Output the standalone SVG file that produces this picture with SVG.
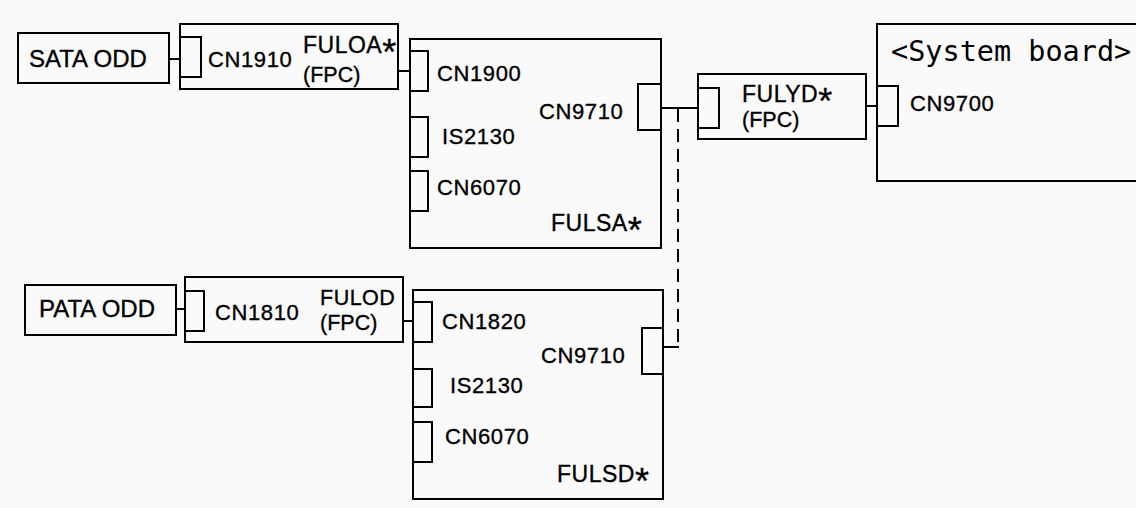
<svg xmlns="http://www.w3.org/2000/svg" width="1136" height="508" viewBox="0 0 1136 508">
<style>
.box{fill:none;stroke:#000;stroke-width:2}
.ln{fill:none;stroke:#000;stroke-width:2}
.dash{fill:none;stroke:#000;stroke-width:2;stroke-dasharray:13 7}
.t{font-family:"Liberation Sans",Arial,sans-serif;fill:#000;stroke:#000;stroke-width:0.35}
.big{font-size:24px}
.cn{font-size:22px;letter-spacing:0.6px}
.ful{font-size:23px;letter-spacing:0.5px}
.ast{font-size:36px}
.fpc{font-size:21.5px}
.mono{font-family:"DejaVu Sans Mono","Liberation Mono",monospace;font-size:28.5px;fill:#000}
</style>
<rect width="1136" height="508" fill="#fafafa"/>
<g id="sata-odd">
<rect class="box" x="18" y="33" width="151" height="50"/>
<text class="t big" x="29" y="67">SATA ODD</text>
</g>
<g id="fuloa">
<rect class="box" x="180" y="24" width="218" height="65"/>
<rect class="box" x="180" y="37" width="21" height="40"/>
<text class="t cn" x="208" y="67">CN1910</text>
<text class="t ful" x="303" y="53">FULOA<tspan class="ast" dy="12">*</tspan></text>
<text class="t fpc" x="303" y="82">(FPC)</text>
</g>
<g id="fulsa">
<rect class="box" x="410" y="39" width="251" height="209"/>
<rect class="box" x="410" y="51" width="18" height="40"/>
<rect class="box" x="410" y="117" width="18" height="40"/>
<rect class="box" x="410" y="171" width="18" height="40"/>
<rect class="box" x="638" y="84" width="23" height="46"/>
<text class="t cn" x="437" y="81">CN1900</text>
<text class="t cn" x="442" y="144">IS2130</text>
<text class="t cn" x="437" y="195">CN6070</text>
<text class="t cn" x="539" y="119">CN9710</text>
<text class="t ful" x="551" y="231">FULSA<tspan class="ast" dy="12">*</tspan></text>
</g>
<g id="fulyd">
<rect class="box" x="698" y="74" width="168" height="65"/>
<rect class="box" x="698" y="88" width="21" height="40"/>
<text class="t ful" x="742" y="102">FULYD<tspan class="ast" dy="12">*</tspan></text>
<text class="t fpc" x="742" y="127">(FPC)</text>
</g>
<g id="system-board">
<rect class="box" x="877" y="24" width="280" height="157"/>
<rect class="box" x="877" y="86" width="21" height="40"/>
<text class="mono" x="891" y="61">&lt;System board&gt;</text>
<text class="t cn" x="910" y="111">CN9700</text>
</g>
<g id="pata-odd">
<rect class="box" x="25" y="285" width="151" height="50"/>
<text class="t big" x="39" y="317">PATA ODD</text>
</g>
<g id="fulod">
<rect class="box" x="185" y="277" width="218" height="65"/>
<rect class="box" x="185" y="291" width="19" height="40"/>
<text class="t cn" x="215" y="320">CN1810</text>
<text class="t fpc" x="320" y="305" style="letter-spacing:0.5px">FULOD</text>
<text class="t fpc" x="320" y="330">(FPC)</text>
</g>
<g id="fulsd">
<rect class="box" x="413" y="290" width="250" height="209"/>
<rect class="box" x="413" y="302" width="19" height="40"/>
<rect class="box" x="413" y="369" width="19" height="38"/>
<rect class="box" x="413" y="422" width="19" height="40"/>
<rect class="box" x="642" y="328" width="21" height="46"/>
<text class="t cn" x="442" y="329">CN1820</text>
<text class="t cn" x="541" y="363">CN9710</text>
<text class="t cn" x="450" y="393">IS2130</text>
<text class="t cn" x="445" y="444">CN6070</text>
<text class="t ful" x="557" y="482">FULSD<tspan class="ast" dy="12">*</tspan></text>
</g>
<g id="connectors">
<line class="ln" x1="169" y1="59" x2="180" y2="59"/>
<line class="ln" x1="398" y1="71" x2="410" y2="71"/>
<line class="ln" x1="661" y1="108" x2="698" y2="108"/>
<line class="ln" x1="866" y1="106" x2="877" y2="106"/>
<line class="dash" x1="678" y1="109" x2="678" y2="346"/>
<line class="ln" x1="663" y1="347" x2="679" y2="347"/>
<line class="ln" x1="176" y1="309" x2="185" y2="309"/>
<line class="ln" x1="403" y1="321" x2="413" y2="321"/>
</g>
</svg>
